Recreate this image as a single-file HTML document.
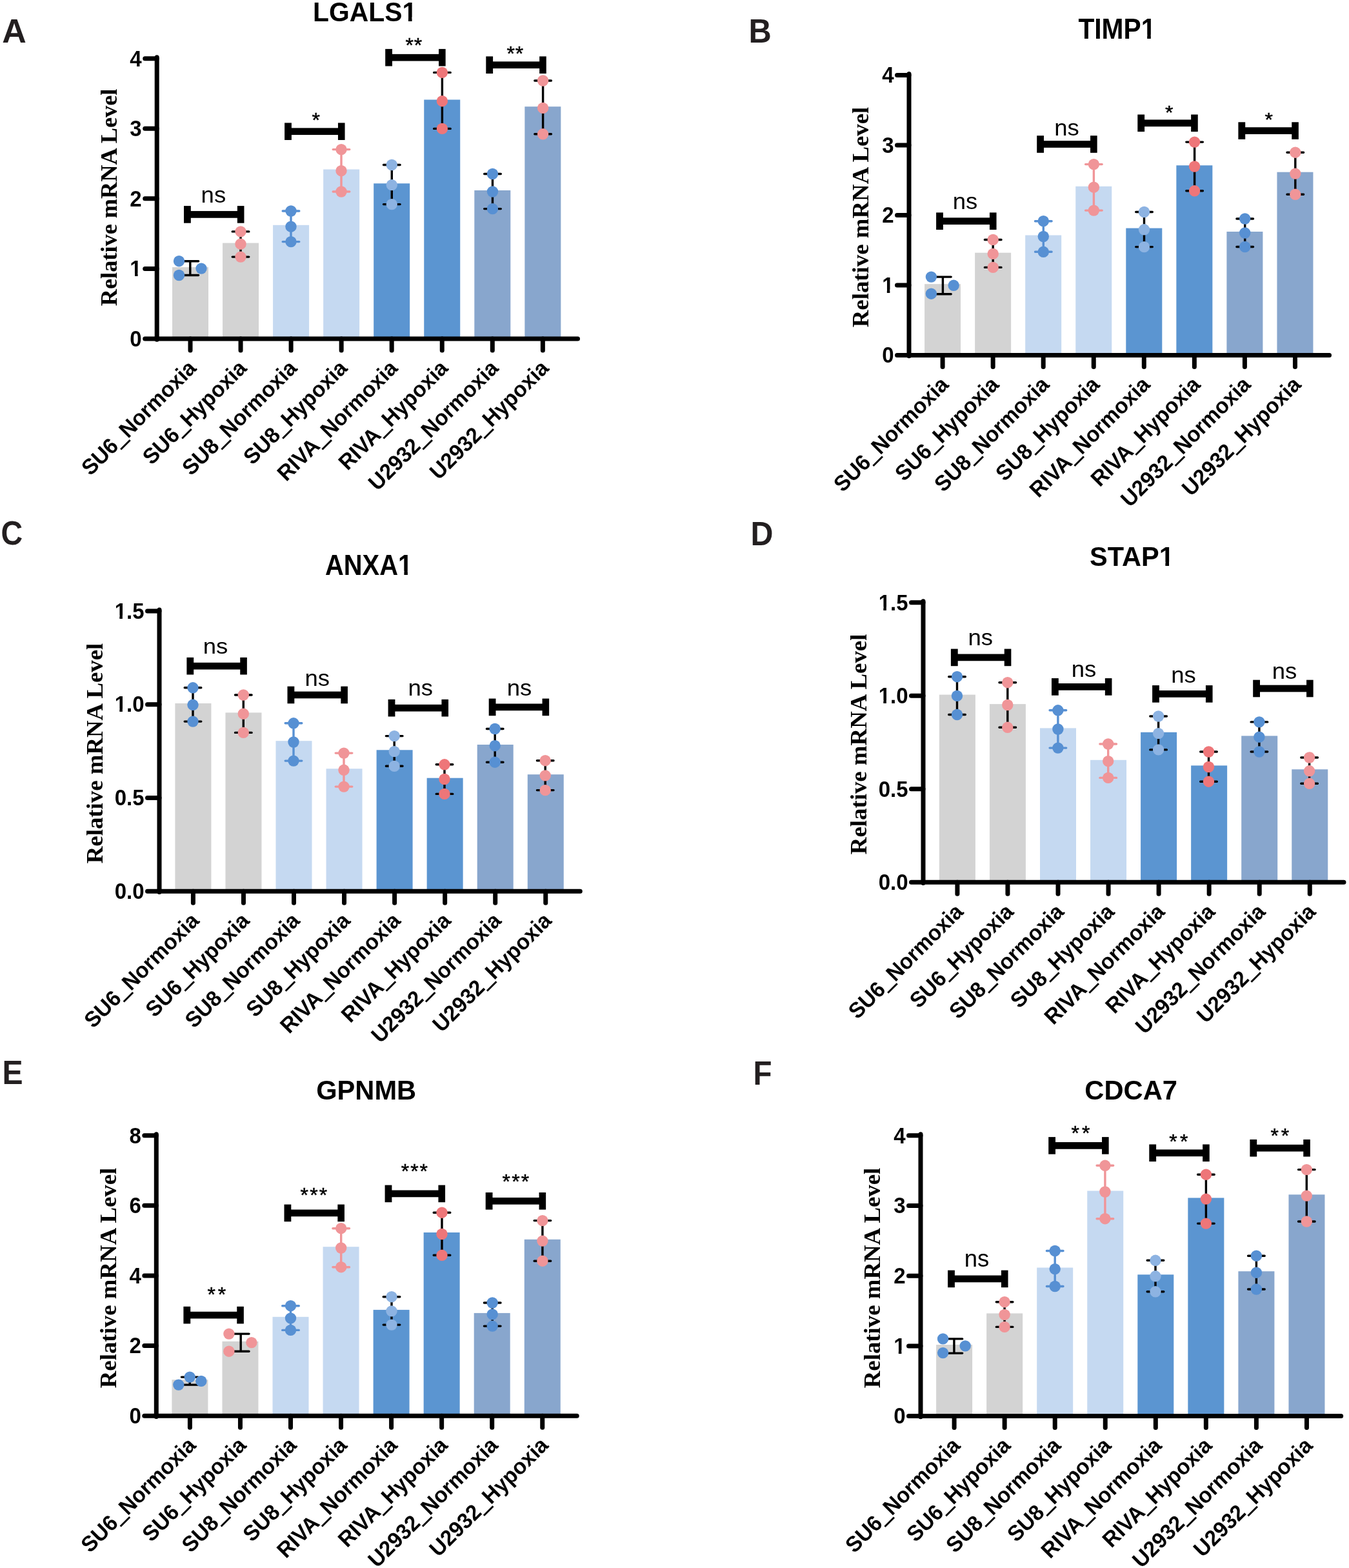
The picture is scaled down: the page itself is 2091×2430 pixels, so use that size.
<!DOCTYPE html>
<html><head><meta charset="utf-8"><title>Relative mRNA levels</title>
<style>html,body{margin:0;padding:0;background:#fff;}svg{display:block;}</style></head>
<body><svg width="2091" height="2430" viewBox="0 0 2091 2430">
<rect width="2091" height="2430" fill="#fff"/>
<text x="3.2" y="65.8" font-family="'Liberation Sans', Arial, sans-serif" font-weight="bold" font-size="52.01" fill="#231f20">A</text>
<g transform="translate(484.96 32.67) scale(1 1.0475)"><text font-family="'Liberation Sans', Arial, sans-serif" font-weight="bold" font-size="40.86" fill="#000">LGALS1</text><rect x="140.04" y="-5.67" width="7.96" height="6.87" fill="#fff"/><rect x="153.6" y="-5.67" width="7.44" height="6.87" fill="#fff"/></g>
<rect x="267" y="414.1" width="56" height="110.9" fill="#d3d3d3"/>
<rect x="345.05" y="376.6" width="56" height="148.4" fill="#d3d3d3"/>
<rect x="423.1" y="348.8" width="56" height="176.2" fill="#c5d9f1"/>
<rect x="501.15" y="262.5" width="56" height="262.5" fill="#c5d9f1"/>
<rect x="579.2" y="284.3" width="56" height="240.7" fill="#5b95d1"/>
<rect x="657.25" y="154.5" width="56" height="370.5" fill="#5b95d1"/>
<rect x="735.3" y="295" width="56" height="230" fill="#88a6cd"/>
<rect x="813.35" y="165.2" width="56" height="359.8" fill="#88a6cd"/>
<path d="M294.8 404.7V426.5M282 404.7H307.6M282 426.5H307.6" stroke="#000000" stroke-width="3.4" stroke-linecap="round" fill="none"/>
<circle cx="277.5" cy="404.7" r="8.7" fill="#5790d3"/>
<circle cx="277.5" cy="426.5" r="8.7" fill="#5790d3"/>
<circle cx="312" cy="416.1" r="8.7" fill="#5790d3"/>
<path d="M373 358.9V398.1M360.2 358.9H385.8M360.2 398.1H385.8" stroke="#000000" stroke-width="3.4" stroke-linecap="round" fill="none"/>
<circle cx="373" cy="358.9" r="8.7" fill="#f09598"/>
<circle cx="373" cy="378.2" r="8.7" fill="#f09598"/>
<circle cx="373" cy="398.1" r="8.7" fill="#f09598"/>
<path d="M451 327V374.6M438.2 327H463.8M438.2 374.6H463.8" stroke="#5790d3" stroke-width="3.4" stroke-linecap="round" fill="none"/>
<circle cx="451" cy="327" r="8.7" fill="#5790d3"/>
<circle cx="451" cy="351.2" r="8.7" fill="#5790d3"/>
<circle cx="451" cy="374.6" r="8.7" fill="#5790d3"/>
<path d="M529 231.6V297M516.2 231.6H541.8M516.2 297H541.8" stroke="#f09598" stroke-width="3.4" stroke-linecap="round" fill="none"/>
<circle cx="529" cy="231.6" r="8.7" fill="#f09598"/>
<circle cx="529" cy="264.7" r="8.7" fill="#f09598"/>
<circle cx="529" cy="297" r="8.7" fill="#f09598"/>
<path d="M607.3 255.5V316.6M594.5 255.5H620.1M594.5 316.6H620.1" stroke="#000000" stroke-width="3.4" stroke-linecap="round" fill="none"/>
<circle cx="607.3" cy="255.5" r="8.7" fill="#8db3e2"/>
<circle cx="607.3" cy="286.6" r="8.7" fill="#8db3e2"/>
<circle cx="607.3" cy="316.6" r="8.7" fill="#8db3e2"/>
<path d="M685.4 112.4V199.4M672.6 112.4H698.2M672.6 199.4H698.2" stroke="#000000" stroke-width="3.4" stroke-linecap="round" fill="none"/>
<circle cx="685.4" cy="112.4" r="8.7" fill="#ee7679"/>
<circle cx="685.4" cy="156.7" r="8.7" fill="#ee7679"/>
<circle cx="685.4" cy="199.4" r="8.7" fill="#ee7679"/>
<path d="M763.5 269.5V323.6M750.7 269.5H776.3M750.7 323.6H776.3" stroke="#000000" stroke-width="3.4" stroke-linecap="round" fill="none"/>
<circle cx="763.5" cy="269.5" r="8.7" fill="#5790d3"/>
<circle cx="763.5" cy="297" r="8.7" fill="#5790d3"/>
<circle cx="763.5" cy="323.6" r="8.7" fill="#5790d3"/>
<path d="M841.6 125V207.8M828.8 125H854.4M828.8 207.8H854.4" stroke="#000000" stroke-width="3.4" stroke-linecap="round" fill="none"/>
<circle cx="841.6" cy="125" r="8.7" fill="#f09598"/>
<circle cx="841.6" cy="167.4" r="8.7" fill="#f09598"/>
<circle cx="841.6" cy="207.8" r="8.7" fill="#f09598"/>
<path d="M243.2 88.7V526.2M243.2 525H895.5" stroke="#000" stroke-width="7" stroke-linecap="round" fill="none"/>
<path d="M243.2 525H224.7" stroke="#000" stroke-width="7" stroke-linecap="round"/>
<g transform="translate(219.7 536.81) scale(1 1.04)"><text text-anchor="end" font-family="'Liberation Sans', Arial, sans-serif" font-weight="bold" font-size="33">0</text></g>
<path d="M243.2 416.43H224.7" stroke="#000" stroke-width="7" stroke-linecap="round"/>
<g transform="translate(219.7 428.24) scale(1 1.04)"><text text-anchor="end" font-family="'Liberation Sans', Arial, sans-serif" font-weight="bold" font-size="33">1</text><rect x="-17.28" y="-4.87" width="6.62" height="6.07" fill="#fff"/><rect x="-6.13" y="-4.87" width="6.2" height="6.07" fill="#fff"/></g>
<path d="M243.2 307.85H224.7" stroke="#000" stroke-width="7" stroke-linecap="round"/>
<g transform="translate(219.7 319.66) scale(1 1.04)"><text text-anchor="end" font-family="'Liberation Sans', Arial, sans-serif" font-weight="bold" font-size="33">2</text></g>
<path d="M243.2 199.27H224.7" stroke="#000" stroke-width="7" stroke-linecap="round"/>
<g transform="translate(219.7 211.09) scale(1 1.04)"><text text-anchor="end" font-family="'Liberation Sans', Arial, sans-serif" font-weight="bold" font-size="33">3</text></g>
<path d="M243.2 90.7H224.7" stroke="#000" stroke-width="7" stroke-linecap="round"/>
<g transform="translate(219.7 102.51) scale(1 1.04)"><text text-anchor="end" font-family="'Liberation Sans', Arial, sans-serif" font-weight="bold" font-size="33">4</text></g>
<path d="M295 525V543" stroke="#000" stroke-width="7" stroke-linecap="round"/>
<text transform="translate(306.1 572.6) rotate(-45) scale(1 1.03)" text-anchor="end" font-family="'Liberation Sans', Arial, sans-serif" font-weight="bold" font-size="33">SU6<tspan stroke="#000" stroke-width="1.6">_</tspan>Normoxia</text>
<path d="M373.05 525V543" stroke="#000" stroke-width="7" stroke-linecap="round"/>
<text transform="translate(384.15 572.6) rotate(-45) scale(1 1.03)" text-anchor="end" font-family="'Liberation Sans', Arial, sans-serif" font-weight="bold" font-size="33">SU6<tspan stroke="#000" stroke-width="1.6">_</tspan>Hypoxia</text>
<path d="M451.1 525V543" stroke="#000" stroke-width="7" stroke-linecap="round"/>
<text transform="translate(462.2 572.6) rotate(-45) scale(1 1.03)" text-anchor="end" font-family="'Liberation Sans', Arial, sans-serif" font-weight="bold" font-size="33">SU8<tspan stroke="#000" stroke-width="1.6">_</tspan>Normoxia</text>
<path d="M529.15 525V543" stroke="#000" stroke-width="7" stroke-linecap="round"/>
<text transform="translate(540.25 572.6) rotate(-45) scale(1 1.03)" text-anchor="end" font-family="'Liberation Sans', Arial, sans-serif" font-weight="bold" font-size="33">SU8<tspan stroke="#000" stroke-width="1.6">_</tspan>Hypoxia</text>
<path d="M607.2 525V543" stroke="#000" stroke-width="7" stroke-linecap="round"/>
<text transform="translate(618.3 572.6) rotate(-45) scale(1 1.03)" text-anchor="end" font-family="'Liberation Sans', Arial, sans-serif" font-weight="bold" font-size="33">RIVA<tspan stroke="#000" stroke-width="1.6">_</tspan>Normoxia</text>
<path d="M685.25 525V543" stroke="#000" stroke-width="7" stroke-linecap="round"/>
<text transform="translate(696.35 572.6) rotate(-45) scale(1 1.03)" text-anchor="end" font-family="'Liberation Sans', Arial, sans-serif" font-weight="bold" font-size="33">RIVA<tspan stroke="#000" stroke-width="1.6">_</tspan>Hypoxia</text>
<path d="M763.3 525V543" stroke="#000" stroke-width="7" stroke-linecap="round"/>
<text transform="translate(774.4 572.6) rotate(-45) scale(1 1.03)" text-anchor="end" font-family="'Liberation Sans', Arial, sans-serif" font-weight="bold" font-size="33">U2932<tspan stroke="#000" stroke-width="1.6">_</tspan>Normoxia</text>
<path d="M841.35 525V543" stroke="#000" stroke-width="7" stroke-linecap="round"/>
<text transform="translate(852.45 572.6) rotate(-45) scale(1 1.03)" text-anchor="end" font-family="'Liberation Sans', Arial, sans-serif" font-weight="bold" font-size="33">U2932<tspan stroke="#000" stroke-width="1.6">_</tspan>Hypoxia</text>
<rect x="285" y="319.1" width="10.8" height="26.6"/>
<rect x="367.85" y="319.1" width="10.6" height="26.6"/>
<rect x="295" y="327.05" width="78.05" height="10.7"/>
<text transform="translate(311.58 313.75) scale(1 0.9649)" font-family="'Liberation Sans', Arial, sans-serif" font-weight="normal" font-size="36.5" fill="#000">ns</text>
<rect x="441.1" y="190.4" width="10.8" height="26.6"/>
<rect x="523.95" y="190.4" width="10.6" height="26.6"/>
<rect x="451.1" y="198.35" width="78.05" height="10.7"/>
<text stroke="#000" stroke-width="0.5" transform="translate(483.43 197.16) scale(1 0.9793)" font-family="'Liberation Sans', Arial, sans-serif" font-weight="normal" font-size="32" fill="#000">*</text>
<rect x="597.2" y="75.9" width="10.8" height="26.6"/>
<rect x="680.05" y="75.9" width="10.6" height="26.6"/>
<rect x="607.2" y="83.85" width="78.05" height="10.7"/>
<text stroke="#000" stroke-width="0.5" transform="translate(628.39 81.47) scale(1 0.9704)" font-family="'Liberation Sans', Arial, sans-serif" font-weight="normal" font-size="32" fill="#000" letter-spacing="1.03">**</text>
<rect x="753.3" y="87.4" width="10.8" height="26.6"/>
<rect x="836.15" y="87.4" width="10.6" height="26.6"/>
<rect x="763.3" y="95.35" width="78.05" height="10.7"/>
<text stroke="#000" stroke-width="0.5" transform="translate(785.49 94.05) scale(1 1.0061)" font-family="'Liberation Sans', Arial, sans-serif" font-weight="normal" font-size="32" fill="#000" letter-spacing="0.83">**</text>
<text transform="translate(180.5 305.9) rotate(-90)" text-anchor="middle" font-family="'Liberation Serif', 'Times New Roman', serif" font-weight="bold" font-size="36.3">Relative mRNA Level</text>
<text transform="translate(1160.53 65.8) scale(1 1.0622)" font-family="'Liberation Sans', Arial, sans-serif" font-weight="bold" font-size="48.85" fill="#231f20">B</text>
<g transform="translate(1671.45 59.8) scale(1 1.0676)"><text font-family="'Liberation Sans', Arial, sans-serif" font-weight="bold" font-size="40.71" fill="#000">TIMP1</text><rect x="98.81" y="-5.65" width="7.94" height="6.85" fill="#fff"/><rect x="112.33" y="-5.65" width="7.42" height="6.85" fill="#fff"/></g>
<rect x="1433.1" y="440.2" width="56" height="110.3" fill="#d3d3d3"/>
<rect x="1511.15" y="391.7" width="56" height="158.8" fill="#d3d3d3"/>
<rect x="1589.2" y="364.5" width="56" height="186" fill="#c5d9f1"/>
<rect x="1667.25" y="288.8" width="56" height="261.7" fill="#c5d9f1"/>
<rect x="1745.3" y="353.6" width="56" height="196.9" fill="#5b95d1"/>
<rect x="1823.35" y="256.3" width="56" height="294.2" fill="#5b95d1"/>
<rect x="1901.4" y="359" width="56" height="191.5" fill="#88a6cd"/>
<rect x="1979.45" y="266.7" width="56" height="283.8" fill="#88a6cd"/>
<path d="M1461.4 429.1V455.7M1448.6 429.1H1474.2M1448.6 455.7H1474.2" stroke="#000000" stroke-width="3.4" stroke-linecap="round" fill="none"/>
<circle cx="1443.4" cy="429.1" r="8.7" fill="#5790d3"/>
<circle cx="1443.4" cy="455.2" r="8.7" fill="#5790d3"/>
<circle cx="1478.2" cy="442.3" r="8.7" fill="#5790d3"/>
<path d="M1539.2 371.5V414.4M1526.4 371.5H1552M1526.4 414.4H1552" stroke="#000000" stroke-width="3.4" stroke-linecap="round" fill="none"/>
<circle cx="1539.2" cy="371.5" r="8.7" fill="#f09598"/>
<circle cx="1539.2" cy="393.4" r="8.7" fill="#f09598"/>
<circle cx="1539.2" cy="414.4" r="8.7" fill="#f09598"/>
<path d="M1617.3 342.7V390.3M1604.5 342.7H1630.1M1604.5 390.3H1630.1" stroke="#5790d3" stroke-width="3.4" stroke-linecap="round" fill="none"/>
<circle cx="1617.3" cy="342.7" r="8.7" fill="#5790d3"/>
<circle cx="1617.3" cy="366.5" r="8.7" fill="#5790d3"/>
<circle cx="1617.3" cy="390.3" r="8.7" fill="#5790d3"/>
<path d="M1695.4 254.6V326.1M1682.6 254.6H1708.2M1682.6 326.1H1708.2" stroke="#f09598" stroke-width="3.4" stroke-linecap="round" fill="none"/>
<circle cx="1695.4" cy="254.6" r="8.7" fill="#f09598"/>
<circle cx="1695.4" cy="290.2" r="8.7" fill="#f09598"/>
<circle cx="1695.4" cy="326.1" r="8.7" fill="#f09598"/>
<path d="M1773.5 328.5V382.6M1760.7 328.5H1786.3M1760.7 382.6H1786.3" stroke="#000000" stroke-width="3.4" stroke-linecap="round" fill="none"/>
<circle cx="1773.5" cy="328.5" r="8.7" fill="#8db3e2"/>
<circle cx="1773.5" cy="355.8" r="8.7" fill="#8db3e2"/>
<circle cx="1773.5" cy="382.6" r="8.7" fill="#8db3e2"/>
<path d="M1851.6 220.1V295.8M1838.8 220.1H1864.4M1838.8 295.8H1864.4" stroke="#000000" stroke-width="3.4" stroke-linecap="round" fill="none"/>
<circle cx="1851.6" cy="220.1" r="8.7" fill="#ee7679"/>
<circle cx="1851.6" cy="258" r="8.7" fill="#ee7679"/>
<circle cx="1851.6" cy="295.8" r="8.7" fill="#ee7679"/>
<path d="M1929.7 339V382.5M1916.9 339H1942.5M1916.9 382.5H1942.5" stroke="#000000" stroke-width="3.4" stroke-linecap="round" fill="none"/>
<circle cx="1929.7" cy="339" r="8.7" fill="#5790d3"/>
<circle cx="1929.7" cy="361" r="8.7" fill="#5790d3"/>
<circle cx="1929.7" cy="382.5" r="8.7" fill="#5790d3"/>
<path d="M2007.8 236.2V301.3M1995 236.2H2020.6M1995 301.3H2020.6" stroke="#000000" stroke-width="3.4" stroke-linecap="round" fill="none"/>
<circle cx="2007.8" cy="236.2" r="8.7" fill="#f09598"/>
<circle cx="2007.8" cy="269.1" r="8.7" fill="#f09598"/>
<circle cx="2007.8" cy="301.3" r="8.7" fill="#f09598"/>
<path d="M1409 114.5V551.7M1409 550.5H2060.5" stroke="#000" stroke-width="7" stroke-linecap="round" fill="none"/>
<path d="M1409 550.5H1390.5" stroke="#000" stroke-width="7" stroke-linecap="round"/>
<g transform="translate(1385.5 562.31) scale(1 1.04)"><text text-anchor="end" font-family="'Liberation Sans', Arial, sans-serif" font-weight="bold" font-size="33">0</text></g>
<path d="M1409 442H1390.5" stroke="#000" stroke-width="7" stroke-linecap="round"/>
<g transform="translate(1385.5 453.81) scale(1 1.04)"><text text-anchor="end" font-family="'Liberation Sans', Arial, sans-serif" font-weight="bold" font-size="33">1</text><rect x="-17.28" y="-4.87" width="6.62" height="6.07" fill="#fff"/><rect x="-6.13" y="-4.87" width="6.2" height="6.07" fill="#fff"/></g>
<path d="M1409 333.5H1390.5" stroke="#000" stroke-width="7" stroke-linecap="round"/>
<g transform="translate(1385.5 345.31) scale(1 1.04)"><text text-anchor="end" font-family="'Liberation Sans', Arial, sans-serif" font-weight="bold" font-size="33">2</text></g>
<path d="M1409 225H1390.5" stroke="#000" stroke-width="7" stroke-linecap="round"/>
<g transform="translate(1385.5 236.81) scale(1 1.04)"><text text-anchor="end" font-family="'Liberation Sans', Arial, sans-serif" font-weight="bold" font-size="33">3</text></g>
<path d="M1409 116.5H1390.5" stroke="#000" stroke-width="7" stroke-linecap="round"/>
<g transform="translate(1385.5 128.31) scale(1 1.04)"><text text-anchor="end" font-family="'Liberation Sans', Arial, sans-serif" font-weight="bold" font-size="33">4</text></g>
<path d="M1461.1 550.5V568.5" stroke="#000" stroke-width="7" stroke-linecap="round"/>
<text transform="translate(1472.2 598.1) rotate(-45) scale(1 1.03)" text-anchor="end" font-family="'Liberation Sans', Arial, sans-serif" font-weight="bold" font-size="33">SU6<tspan stroke="#000" stroke-width="1.6">_</tspan>Normoxia</text>
<path d="M1539.15 550.5V568.5" stroke="#000" stroke-width="7" stroke-linecap="round"/>
<text transform="translate(1550.25 598.1) rotate(-45) scale(1 1.03)" text-anchor="end" font-family="'Liberation Sans', Arial, sans-serif" font-weight="bold" font-size="33">SU6<tspan stroke="#000" stroke-width="1.6">_</tspan>Hypoxia</text>
<path d="M1617.2 550.5V568.5" stroke="#000" stroke-width="7" stroke-linecap="round"/>
<text transform="translate(1628.3 598.1) rotate(-45) scale(1 1.03)" text-anchor="end" font-family="'Liberation Sans', Arial, sans-serif" font-weight="bold" font-size="33">SU8<tspan stroke="#000" stroke-width="1.6">_</tspan>Normoxia</text>
<path d="M1695.25 550.5V568.5" stroke="#000" stroke-width="7" stroke-linecap="round"/>
<text transform="translate(1706.35 598.1) rotate(-45) scale(1 1.03)" text-anchor="end" font-family="'Liberation Sans', Arial, sans-serif" font-weight="bold" font-size="33">SU8<tspan stroke="#000" stroke-width="1.6">_</tspan>Hypoxia</text>
<path d="M1773.3 550.5V568.5" stroke="#000" stroke-width="7" stroke-linecap="round"/>
<text transform="translate(1784.4 598.1) rotate(-45) scale(1 1.03)" text-anchor="end" font-family="'Liberation Sans', Arial, sans-serif" font-weight="bold" font-size="33">RIVA<tspan stroke="#000" stroke-width="1.6">_</tspan>Normoxia</text>
<path d="M1851.35 550.5V568.5" stroke="#000" stroke-width="7" stroke-linecap="round"/>
<text transform="translate(1862.45 598.1) rotate(-45) scale(1 1.03)" text-anchor="end" font-family="'Liberation Sans', Arial, sans-serif" font-weight="bold" font-size="33">RIVA<tspan stroke="#000" stroke-width="1.6">_</tspan>Hypoxia</text>
<path d="M1929.4 550.5V568.5" stroke="#000" stroke-width="7" stroke-linecap="round"/>
<text transform="translate(1940.5 598.1) rotate(-45) scale(1 1.03)" text-anchor="end" font-family="'Liberation Sans', Arial, sans-serif" font-weight="bold" font-size="33">U2932<tspan stroke="#000" stroke-width="1.6">_</tspan>Normoxia</text>
<path d="M2007.45 550.5V568.5" stroke="#000" stroke-width="7" stroke-linecap="round"/>
<text transform="translate(2018.55 598.1) rotate(-45) scale(1 1.03)" text-anchor="end" font-family="'Liberation Sans', Arial, sans-serif" font-weight="bold" font-size="33">U2932<tspan stroke="#000" stroke-width="1.6">_</tspan>Hypoxia</text>
<rect x="1451.1" y="329.4" width="10.8" height="26.6"/>
<rect x="1533.95" y="329.4" width="10.6" height="26.6"/>
<rect x="1461.1" y="337.35" width="78.05" height="10.7"/>
<text transform="translate(1476.68 323.54) scale(1 0.9849)" font-family="'Liberation Sans', Arial, sans-serif" font-weight="normal" font-size="36.5" fill="#000">ns</text>
<rect x="1607.2" y="210.2" width="10.8" height="26.6"/>
<rect x="1690.05" y="210.2" width="10.6" height="26.6"/>
<rect x="1617.2" y="218.15" width="78.05" height="10.7"/>
<text transform="translate(1634.23 209.94) scale(1 0.9799)" font-family="'Liberation Sans', Arial, sans-serif" font-weight="normal" font-size="36.5" fill="#000">ns</text>
<rect x="1763.3" y="177.5" width="10.8" height="26.6"/>
<rect x="1846.15" y="177.5" width="10.6" height="26.6"/>
<rect x="1773.3" y="185.45" width="78.05" height="10.7"/>
<text stroke="#000" stroke-width="0.5" transform="translate(1806.08 183.68) scale(1 0.9437)" font-family="'Liberation Sans', Arial, sans-serif" font-weight="normal" font-size="32" fill="#000">*</text>
<rect x="1919.4" y="189.3" width="10.8" height="26.6"/>
<rect x="2002.25" y="189.3" width="10.6" height="26.6"/>
<rect x="1929.4" y="197.25" width="78.05" height="10.7"/>
<text stroke="#000" stroke-width="0.5" transform="translate(1960.38 195.28) scale(1 0.9437)" font-family="'Liberation Sans', Arial, sans-serif" font-weight="normal" font-size="32" fill="#000">*</text>
<text transform="translate(1346.4 336.45) rotate(-90)" text-anchor="middle" font-family="'Liberation Serif', 'Times New Roman', serif" font-weight="bold" font-size="36.85">Relative mRNA Level</text>
<text transform="translate(1.59 844.38) scale(1 1.1145)" font-family="'Liberation Sans', Arial, sans-serif" font-weight="bold" font-size="46.64" fill="#231f20">C</text>
<g transform="translate(503.9 890.9) scale(1 1.0879)"><text font-family="'Liberation Sans', Arial, sans-serif" font-weight="bold" font-size="39.95" fill="#000">ANXA1</text><rect x="114.7" y="-5.57" width="7.81" height="6.77" fill="#fff"/><rect x="127.99" y="-5.57" width="7.3" height="6.77" fill="#fff"/></g>
<rect x="271.4" y="1090" width="56" height="291.2" fill="#d3d3d3"/>
<rect x="349.45" y="1104.4" width="56" height="276.8" fill="#d3d3d3"/>
<rect x="427.5" y="1148.2" width="56" height="233" fill="#c5d9f1"/>
<rect x="505.55" y="1191.3" width="56" height="189.9" fill="#c5d9f1"/>
<rect x="583.6" y="1162.3" width="56" height="218.9" fill="#5b95d1"/>
<rect x="661.65" y="1205.7" width="56" height="175.5" fill="#5b95d1"/>
<rect x="739.7" y="1154" width="56" height="227.2" fill="#88a6cd"/>
<rect x="817.75" y="1200.2" width="56" height="181" fill="#88a6cd"/>
<path d="M299 1065.8V1118.1M286.2 1065.8H311.8M286.2 1118.1H311.8" stroke="#000000" stroke-width="3.4" stroke-linecap="round" fill="none"/>
<circle cx="299" cy="1065.8" r="8.7" fill="#5790d3"/>
<circle cx="299" cy="1092.3" r="8.7" fill="#5790d3"/>
<circle cx="299" cy="1118.1" r="8.7" fill="#5790d3"/>
<path d="M377.3 1077V1135.4M364.5 1077H390.1M364.5 1135.4H390.1" stroke="#000000" stroke-width="3.4" stroke-linecap="round" fill="none"/>
<circle cx="377.3" cy="1077" r="8.7" fill="#f09598"/>
<circle cx="377.3" cy="1106.2" r="8.7" fill="#f09598"/>
<circle cx="377.3" cy="1135.4" r="8.7" fill="#f09598"/>
<path d="M455 1120.8V1179.1M442.2 1120.8H467.8M442.2 1179.1H467.8" stroke="#5790d3" stroke-width="3.4" stroke-linecap="round" fill="none"/>
<circle cx="455" cy="1120.8" r="8.7" fill="#5790d3"/>
<circle cx="455" cy="1150" r="8.7" fill="#5790d3"/>
<circle cx="455" cy="1179.1" r="8.7" fill="#5790d3"/>
<path d="M533 1167.1V1219.1M520.2 1167.1H545.8M520.2 1219.1H545.8" stroke="#f09598" stroke-width="3.4" stroke-linecap="round" fill="none"/>
<circle cx="533" cy="1167.1" r="8.7" fill="#f09598"/>
<circle cx="533" cy="1193.3" r="8.7" fill="#f09598"/>
<circle cx="533" cy="1219.1" r="8.7" fill="#f09598"/>
<path d="M611.2 1140.6V1187.3M598.4 1140.6H624M598.4 1187.3H624" stroke="#000000" stroke-width="3.4" stroke-linecap="round" fill="none"/>
<circle cx="611.2" cy="1140.6" r="8.7" fill="#8db3e2"/>
<circle cx="611.2" cy="1164.6" r="8.7" fill="#8db3e2"/>
<circle cx="611.2" cy="1187.3" r="8.7" fill="#8db3e2"/>
<path d="M689 1184.8V1230.4M676.2 1184.8H701.8M676.2 1230.4H701.8" stroke="#000000" stroke-width="3.4" stroke-linecap="round" fill="none"/>
<circle cx="689" cy="1184.8" r="8.7" fill="#ee7679"/>
<circle cx="689" cy="1207.5" r="8.7" fill="#ee7679"/>
<circle cx="689" cy="1230.4" r="8.7" fill="#ee7679"/>
<path d="M767.2 1129.5V1181.2M754.4 1129.5H780M754.4 1181.2H780" stroke="#000000" stroke-width="3.4" stroke-linecap="round" fill="none"/>
<circle cx="767.2" cy="1129.5" r="8.7" fill="#5790d3"/>
<circle cx="767.2" cy="1155.7" r="8.7" fill="#5790d3"/>
<circle cx="767.2" cy="1181.2" r="8.7" fill="#5790d3"/>
<path d="M845.2 1178.7V1224.6M832.4 1178.7H858M832.4 1224.6H858" stroke="#000000" stroke-width="3.4" stroke-linecap="round" fill="none"/>
<circle cx="845.2" cy="1178.7" r="8.7" fill="#f09598"/>
<circle cx="845.2" cy="1201.9" r="8.7" fill="#f09598"/>
<circle cx="845.2" cy="1224.6" r="8.7" fill="#f09598"/>
<path d="M247 944.9V1382.4M247 1381.2H899.3" stroke="#000" stroke-width="7" stroke-linecap="round" fill="none"/>
<path d="M247 1381.2H228.5" stroke="#000" stroke-width="7" stroke-linecap="round"/>
<g transform="translate(223.5 1393.01) scale(1 1.04)"><text text-anchor="end" font-family="'Liberation Sans', Arial, sans-serif" font-weight="bold" font-size="33">0.0</text></g>
<path d="M247 1236.43H228.5" stroke="#000" stroke-width="7" stroke-linecap="round"/>
<g transform="translate(223.5 1248.25) scale(1 1.04)"><text text-anchor="end" font-family="'Liberation Sans', Arial, sans-serif" font-weight="bold" font-size="33">0.5</text></g>
<path d="M247 1091.67H228.5" stroke="#000" stroke-width="7" stroke-linecap="round"/>
<g transform="translate(223.5 1103.48) scale(1 1.04)"><text text-anchor="end" font-family="'Liberation Sans', Arial, sans-serif" font-weight="bold" font-size="33">1.0</text><rect x="-44.8" y="-4.87" width="6.62" height="6.07" fill="#fff"/><rect x="-33.65" y="-4.87" width="6.2" height="6.07" fill="#fff"/></g>
<path d="M247 946.9H228.5" stroke="#000" stroke-width="7" stroke-linecap="round"/>
<g transform="translate(223.5 958.71) scale(1 1.04)"><text text-anchor="end" font-family="'Liberation Sans', Arial, sans-serif" font-weight="bold" font-size="33">1.5</text><rect x="-44.8" y="-4.87" width="6.62" height="6.07" fill="#fff"/><rect x="-33.65" y="-4.87" width="6.2" height="6.07" fill="#fff"/></g>
<path d="M299.4 1381.2V1399.2" stroke="#000" stroke-width="7" stroke-linecap="round"/>
<text transform="translate(310.5 1428.8) rotate(-45) scale(1 1.03)" text-anchor="end" font-family="'Liberation Sans', Arial, sans-serif" font-weight="bold" font-size="33">SU6<tspan stroke="#000" stroke-width="1.6">_</tspan>Normoxia</text>
<path d="M377.45 1381.2V1399.2" stroke="#000" stroke-width="7" stroke-linecap="round"/>
<text transform="translate(388.55 1428.8) rotate(-45) scale(1 1.03)" text-anchor="end" font-family="'Liberation Sans', Arial, sans-serif" font-weight="bold" font-size="33">SU6<tspan stroke="#000" stroke-width="1.6">_</tspan>Hypoxia</text>
<path d="M455.5 1381.2V1399.2" stroke="#000" stroke-width="7" stroke-linecap="round"/>
<text transform="translate(466.6 1428.8) rotate(-45) scale(1 1.03)" text-anchor="end" font-family="'Liberation Sans', Arial, sans-serif" font-weight="bold" font-size="33">SU8<tspan stroke="#000" stroke-width="1.6">_</tspan>Normoxia</text>
<path d="M533.55 1381.2V1399.2" stroke="#000" stroke-width="7" stroke-linecap="round"/>
<text transform="translate(544.65 1428.8) rotate(-45) scale(1 1.03)" text-anchor="end" font-family="'Liberation Sans', Arial, sans-serif" font-weight="bold" font-size="33">SU8<tspan stroke="#000" stroke-width="1.6">_</tspan>Hypoxia</text>
<path d="M611.6 1381.2V1399.2" stroke="#000" stroke-width="7" stroke-linecap="round"/>
<text transform="translate(622.7 1428.8) rotate(-45) scale(1 1.03)" text-anchor="end" font-family="'Liberation Sans', Arial, sans-serif" font-weight="bold" font-size="33">RIVA<tspan stroke="#000" stroke-width="1.6">_</tspan>Normoxia</text>
<path d="M689.65 1381.2V1399.2" stroke="#000" stroke-width="7" stroke-linecap="round"/>
<text transform="translate(700.75 1428.8) rotate(-45) scale(1 1.03)" text-anchor="end" font-family="'Liberation Sans', Arial, sans-serif" font-weight="bold" font-size="33">RIVA<tspan stroke="#000" stroke-width="1.6">_</tspan>Hypoxia</text>
<path d="M767.7 1381.2V1399.2" stroke="#000" stroke-width="7" stroke-linecap="round"/>
<text transform="translate(778.8 1428.8) rotate(-45) scale(1 1.03)" text-anchor="end" font-family="'Liberation Sans', Arial, sans-serif" font-weight="bold" font-size="33">U2932<tspan stroke="#000" stroke-width="1.6">_</tspan>Normoxia</text>
<path d="M845.75 1381.2V1399.2" stroke="#000" stroke-width="7" stroke-linecap="round"/>
<text transform="translate(856.85 1428.8) rotate(-45) scale(1 1.03)" text-anchor="end" font-family="'Liberation Sans', Arial, sans-serif" font-weight="bold" font-size="33">U2932<tspan stroke="#000" stroke-width="1.6">_</tspan>Hypoxia</text>
<rect x="289.4" y="1018.9" width="10.8" height="26.6"/>
<rect x="372.25" y="1018.9" width="10.6" height="26.6"/>
<rect x="299.4" y="1026.85" width="78.05" height="10.7"/>
<text transform="translate(314.73 1013.26) scale(1 0.9199)" font-family="'Liberation Sans', Arial, sans-serif" font-weight="normal" font-size="36.5" fill="#000">ns</text>
<rect x="445.5" y="1063.7" width="10.8" height="26.6"/>
<rect x="528.35" y="1063.7" width="10.6" height="26.6"/>
<rect x="455.5" y="1071.65" width="78.05" height="10.7"/>
<text transform="translate(472.58 1063.25) scale(1 0.9549)" font-family="'Liberation Sans', Arial, sans-serif" font-weight="normal" font-size="36.5" fill="#000">ns</text>
<rect x="601.6" y="1083.9" width="10.8" height="26.6"/>
<rect x="684.45" y="1083.9" width="10.6" height="26.6"/>
<rect x="611.6" y="1091.85" width="78.05" height="10.7"/>
<text transform="translate(632.58 1078.35) scale(1 0.9699)" font-family="'Liberation Sans', Arial, sans-serif" font-weight="normal" font-size="36.5" fill="#000">ns</text>
<rect x="757.7" y="1082.6" width="10.8" height="26.6"/>
<rect x="840.55" y="1082.6" width="10.6" height="26.6"/>
<rect x="767.7" y="1090.55" width="78.05" height="10.7"/>
<text transform="translate(785.78 1077.85) scale(1 0.9699)" font-family="'Liberation Sans', Arial, sans-serif" font-weight="normal" font-size="36.5" fill="#000">ns</text>
<text transform="translate(158.6 1167.5) rotate(-90)" text-anchor="middle" font-family="'Liberation Serif', 'Times New Roman', serif" font-weight="bold" font-size="36.85">Relative mRNA Level</text>
<text transform="translate(1163.45 844.8) scale(1 1.0710)" font-family="'Liberation Sans', Arial, sans-serif" font-weight="bold" font-size="48.45" fill="#231f20">D</text>
<g transform="translate(1689 876.67) scale(1 1.0306)"><text font-family="'Liberation Sans', Arial, sans-serif" font-weight="bold" font-size="41.53" fill="#000">STAP1</text><rect x="109.29" y="-5.74" width="8.08" height="6.94" fill="#fff"/><rect x="123.06" y="-5.74" width="7.55" height="6.94" fill="#fff"/></g>
<rect x="1455.9" y="1076.6" width="56" height="290.7" fill="#d3d3d3"/>
<rect x="1533.95" y="1091.1" width="56" height="276.2" fill="#d3d3d3"/>
<rect x="1612" y="1128.4" width="56" height="238.9" fill="#c5d9f1"/>
<rect x="1690.05" y="1177.8" width="56" height="189.5" fill="#c5d9f1"/>
<rect x="1768.1" y="1134.8" width="56" height="232.5" fill="#5b95d1"/>
<rect x="1846.15" y="1186.4" width="56" height="180.9" fill="#5b95d1"/>
<rect x="1924.2" y="1140.4" width="56" height="226.9" fill="#88a6cd"/>
<rect x="2002.25" y="1192.3" width="56" height="175" fill="#88a6cd"/>
<path d="M1483.5 1048.7V1107.5M1470.7 1048.7H1496.3M1470.7 1107.5H1496.3" stroke="#000000" stroke-width="3.4" stroke-linecap="round" fill="none"/>
<circle cx="1483.5" cy="1048.7" r="8.7" fill="#5790d3"/>
<circle cx="1483.5" cy="1078.4" r="8.7" fill="#5790d3"/>
<circle cx="1483.5" cy="1107.5" r="8.7" fill="#5790d3"/>
<path d="M1561.8 1057.7V1127.3M1549 1057.7H1574.6M1549 1127.3H1574.6" stroke="#000000" stroke-width="3.4" stroke-linecap="round" fill="none"/>
<circle cx="1561.8" cy="1057.7" r="8.7" fill="#f09598"/>
<circle cx="1561.8" cy="1092.5" r="8.7" fill="#f09598"/>
<circle cx="1561.8" cy="1127.3" r="8.7" fill="#f09598"/>
<path d="M1639.9 1100.8V1159.1M1627.1 1100.8H1652.7M1627.1 1159.1H1652.7" stroke="#5790d3" stroke-width="3.4" stroke-linecap="round" fill="none"/>
<circle cx="1639.9" cy="1100.8" r="8.7" fill="#5790d3"/>
<circle cx="1639.9" cy="1130" r="8.7" fill="#5790d3"/>
<circle cx="1639.9" cy="1159.1" r="8.7" fill="#5790d3"/>
<path d="M1717.7 1153V1205.4M1704.9 1153H1730.5M1704.9 1205.4H1730.5" stroke="#f09598" stroke-width="3.4" stroke-linecap="round" fill="none"/>
<circle cx="1717.7" cy="1153" r="8.7" fill="#f09598"/>
<circle cx="1717.7" cy="1179.6" r="8.7" fill="#f09598"/>
<circle cx="1717.7" cy="1205.4" r="8.7" fill="#f09598"/>
<path d="M1795.6 1110V1161.9M1782.8 1110H1808.4M1782.8 1161.9H1808.4" stroke="#000000" stroke-width="3.4" stroke-linecap="round" fill="none"/>
<circle cx="1795.6" cy="1110" r="8.7" fill="#8db3e2"/>
<circle cx="1795.6" cy="1136.6" r="8.7" fill="#8db3e2"/>
<circle cx="1795.6" cy="1161.9" r="8.7" fill="#8db3e2"/>
<path d="M1873.5 1165V1211.2M1860.7 1165H1886.3M1860.7 1211.2H1886.3" stroke="#000000" stroke-width="3.4" stroke-linecap="round" fill="none"/>
<circle cx="1873.5" cy="1165" r="8.7" fill="#ee7679"/>
<circle cx="1873.5" cy="1188.5" r="8.7" fill="#ee7679"/>
<circle cx="1873.5" cy="1211.2" r="8.7" fill="#ee7679"/>
<path d="M1951.9 1118.9V1165M1939.1 1118.9H1964.7M1939.1 1165H1964.7" stroke="#000000" stroke-width="3.4" stroke-linecap="round" fill="none"/>
<circle cx="1951.9" cy="1118.9" r="8.7" fill="#5790d3"/>
<circle cx="1951.9" cy="1142.2" r="8.7" fill="#5790d3"/>
<circle cx="1951.9" cy="1165" r="8.7" fill="#5790d3"/>
<path d="M2029.6 1174V1214.3M2016.8 1174H2042.4M2016.8 1214.3H2042.4" stroke="#000000" stroke-width="3.4" stroke-linecap="round" fill="none"/>
<circle cx="2029.6" cy="1174" r="8.7" fill="#f09598"/>
<circle cx="2029.6" cy="1194.8" r="8.7" fill="#f09598"/>
<circle cx="2029.6" cy="1214.3" r="8.7" fill="#f09598"/>
<path d="M1431 931.7V1368.5M1431 1367.3H2083" stroke="#000" stroke-width="7" stroke-linecap="round" fill="none"/>
<path d="M1431 1367.3H1412.5" stroke="#000" stroke-width="7" stroke-linecap="round"/>
<g transform="translate(1407.5 1379.11) scale(1 1.04)"><text text-anchor="end" font-family="'Liberation Sans', Arial, sans-serif" font-weight="bold" font-size="33">0.0</text></g>
<path d="M1431 1222.77H1412.5" stroke="#000" stroke-width="7" stroke-linecap="round"/>
<g transform="translate(1407.5 1234.58) scale(1 1.04)"><text text-anchor="end" font-family="'Liberation Sans', Arial, sans-serif" font-weight="bold" font-size="33">0.5</text></g>
<path d="M1431 1078.23H1412.5" stroke="#000" stroke-width="7" stroke-linecap="round"/>
<g transform="translate(1407.5 1090.05) scale(1 1.04)"><text text-anchor="end" font-family="'Liberation Sans', Arial, sans-serif" font-weight="bold" font-size="33">1.0</text><rect x="-44.8" y="-4.87" width="6.62" height="6.07" fill="#fff"/><rect x="-33.65" y="-4.87" width="6.2" height="6.07" fill="#fff"/></g>
<path d="M1431 933.7H1412.5" stroke="#000" stroke-width="7" stroke-linecap="round"/>
<g transform="translate(1407.5 945.51) scale(1 1.04)"><text text-anchor="end" font-family="'Liberation Sans', Arial, sans-serif" font-weight="bold" font-size="33">1.5</text><rect x="-44.8" y="-4.87" width="6.62" height="6.07" fill="#fff"/><rect x="-33.65" y="-4.87" width="6.2" height="6.07" fill="#fff"/></g>
<path d="M1483.9 1367.3V1385.3" stroke="#000" stroke-width="7" stroke-linecap="round"/>
<text transform="translate(1495 1414.9) rotate(-45) scale(1 1.03)" text-anchor="end" font-family="'Liberation Sans', Arial, sans-serif" font-weight="bold" font-size="33">SU6<tspan stroke="#000" stroke-width="1.6">_</tspan>Normoxia</text>
<path d="M1561.95 1367.3V1385.3" stroke="#000" stroke-width="7" stroke-linecap="round"/>
<text transform="translate(1573.05 1414.9) rotate(-45) scale(1 1.03)" text-anchor="end" font-family="'Liberation Sans', Arial, sans-serif" font-weight="bold" font-size="33">SU6<tspan stroke="#000" stroke-width="1.6">_</tspan>Hypoxia</text>
<path d="M1640 1367.3V1385.3" stroke="#000" stroke-width="7" stroke-linecap="round"/>
<text transform="translate(1651.1 1414.9) rotate(-45) scale(1 1.03)" text-anchor="end" font-family="'Liberation Sans', Arial, sans-serif" font-weight="bold" font-size="33">SU8<tspan stroke="#000" stroke-width="1.6">_</tspan>Normoxia</text>
<path d="M1718.05 1367.3V1385.3" stroke="#000" stroke-width="7" stroke-linecap="round"/>
<text transform="translate(1729.15 1414.9) rotate(-45) scale(1 1.03)" text-anchor="end" font-family="'Liberation Sans', Arial, sans-serif" font-weight="bold" font-size="33">SU8<tspan stroke="#000" stroke-width="1.6">_</tspan>Hypoxia</text>
<path d="M1796.1 1367.3V1385.3" stroke="#000" stroke-width="7" stroke-linecap="round"/>
<text transform="translate(1807.2 1414.9) rotate(-45) scale(1 1.03)" text-anchor="end" font-family="'Liberation Sans', Arial, sans-serif" font-weight="bold" font-size="33">RIVA<tspan stroke="#000" stroke-width="1.6">_</tspan>Normoxia</text>
<path d="M1874.15 1367.3V1385.3" stroke="#000" stroke-width="7" stroke-linecap="round"/>
<text transform="translate(1885.25 1414.9) rotate(-45) scale(1 1.03)" text-anchor="end" font-family="'Liberation Sans', Arial, sans-serif" font-weight="bold" font-size="33">RIVA<tspan stroke="#000" stroke-width="1.6">_</tspan>Hypoxia</text>
<path d="M1952.2 1367.3V1385.3" stroke="#000" stroke-width="7" stroke-linecap="round"/>
<text transform="translate(1963.3 1414.9) rotate(-45) scale(1 1.03)" text-anchor="end" font-family="'Liberation Sans', Arial, sans-serif" font-weight="bold" font-size="33">U2932<tspan stroke="#000" stroke-width="1.6">_</tspan>Normoxia</text>
<path d="M2030.25 1367.3V1385.3" stroke="#000" stroke-width="7" stroke-linecap="round"/>
<text transform="translate(2041.35 1414.9) rotate(-45) scale(1 1.03)" text-anchor="end" font-family="'Liberation Sans', Arial, sans-serif" font-weight="bold" font-size="33">U2932<tspan stroke="#000" stroke-width="1.6">_</tspan>Hypoxia</text>
<rect x="1473.9" y="1005.6" width="10.8" height="26.6"/>
<rect x="1556.75" y="1005.6" width="10.6" height="26.6"/>
<rect x="1483.9" y="1013.55" width="78.05" height="10.7"/>
<text transform="translate(1500.38 999.85) scale(1 0.9699)" font-family="'Liberation Sans', Arial, sans-serif" font-weight="normal" font-size="36.5" fill="#000">ns</text>
<rect x="1630" y="1051.1" width="10.8" height="26.6"/>
<rect x="1712.85" y="1051.1" width="10.6" height="26.6"/>
<rect x="1640" y="1059.05" width="78.05" height="10.7"/>
<text transform="translate(1660.68 1049.45) scale(1 0.9699)" font-family="'Liberation Sans', Arial, sans-serif" font-weight="normal" font-size="36.5" fill="#000">ns</text>
<rect x="1786.1" y="1062.1" width="10.8" height="26.6"/>
<rect x="1868.95" y="1062.1" width="10.6" height="26.6"/>
<rect x="1796.1" y="1070.05" width="78.05" height="10.7"/>
<text transform="translate(1815.18 1058.25) scale(1 0.9699)" font-family="'Liberation Sans', Arial, sans-serif" font-weight="normal" font-size="36.5" fill="#000">ns</text>
<rect x="1942.2" y="1053.7" width="10.8" height="26.6"/>
<rect x="2025.05" y="1053.7" width="10.6" height="26.6"/>
<rect x="1952.2" y="1061.65" width="78.05" height="10.7"/>
<text transform="translate(1971.78 1051.95) scale(1 0.9699)" font-family="'Liberation Sans', Arial, sans-serif" font-weight="normal" font-size="36.5" fill="#000">ns</text>
<text transform="translate(1343 1153.4) rotate(-90)" text-anchor="middle" font-family="'Liberation Serif', 'Times New Roman', serif" font-weight="bold" font-size="36.85">Relative mRNA Level</text>
<text transform="translate(3.38 1679.8) scale(1 1.0781)" font-family="'Liberation Sans', Arial, sans-serif" font-weight="bold" font-size="48.13" fill="#231f20">E</text>
<g transform="translate(490.19 1703.58) scale(1 1.0176)"><text font-family="'Liberation Sans', Arial, sans-serif" font-weight="bold" font-size="41.64" fill="#000">GPNMB</text></g>
<rect x="266.4" y="2138.2" width="56" height="56" fill="#d3d3d3"/>
<rect x="344.45" y="2078.8" width="56" height="115.4" fill="#d3d3d3"/>
<rect x="422.5" y="2040.8" width="56" height="153.4" fill="#c5d9f1"/>
<rect x="500.55" y="1932.2" width="56" height="262" fill="#c5d9f1"/>
<rect x="578.6" y="2029.9" width="56" height="164.3" fill="#5b95d1"/>
<rect x="656.65" y="1910" width="56" height="284.2" fill="#5b95d1"/>
<rect x="734.7" y="2034.9" width="56" height="159.3" fill="#88a6cd"/>
<rect x="812.75" y="1920.8" width="56" height="273.4" fill="#88a6cd"/>
<path d="M294.2 2134.1V2146.1M281.4 2134.1H307M281.4 2146.1H307" stroke="#000000" stroke-width="3.4" stroke-linecap="round" fill="none"/>
<circle cx="276.8" cy="2146.1" r="8.7" fill="#5790d3"/>
<circle cx="294.2" cy="2134.1" r="8.7" fill="#5790d3"/>
<circle cx="311.8" cy="2140.4" r="8.7" fill="#5790d3"/>
<path d="M373.2 2067.1V2094.2M360.4 2067.1H386M360.4 2094.2H386" stroke="#000000" stroke-width="3.4" stroke-linecap="round" fill="none"/>
<circle cx="354.9" cy="2067.1" r="8.7" fill="#f09598"/>
<circle cx="354.9" cy="2094.2" r="8.7" fill="#f09598"/>
<circle cx="389.9" cy="2080.6" r="8.7" fill="#f09598"/>
<path d="M450.5 2023.7V2061.4M437.7 2023.7H463.3M437.7 2061.4H463.3" stroke="#5790d3" stroke-width="3.4" stroke-linecap="round" fill="none"/>
<circle cx="450.5" cy="2023.7" r="8.7" fill="#5790d3"/>
<circle cx="450.5" cy="2042.9" r="8.7" fill="#5790d3"/>
<circle cx="450.5" cy="2061.4" r="8.7" fill="#5790d3"/>
<path d="M528.7 1903.7V1963.7M515.9 1903.7H541.5M515.9 1963.7H541.5" stroke="#f09598" stroke-width="3.4" stroke-linecap="round" fill="none"/>
<circle cx="528.7" cy="1903.7" r="8.7" fill="#f09598"/>
<circle cx="528.7" cy="1934" r="8.7" fill="#f09598"/>
<circle cx="528.7" cy="1963.7" r="8.7" fill="#f09598"/>
<path d="M607 2009.7V2053.1M594.2 2009.7H619.8M594.2 2053.1H619.8" stroke="#000000" stroke-width="3.4" stroke-linecap="round" fill="none"/>
<circle cx="607" cy="2009.7" r="8.7" fill="#8db3e2"/>
<circle cx="607" cy="2031.9" r="8.7" fill="#8db3e2"/>
<circle cx="607" cy="2053.1" r="8.7" fill="#8db3e2"/>
<path d="M685 1879.2V1945.3M672.2 1879.2H697.8M672.2 1945.3H697.8" stroke="#000000" stroke-width="3.4" stroke-linecap="round" fill="none"/>
<circle cx="685" cy="1879.2" r="8.7" fill="#ee7679"/>
<circle cx="685" cy="1912.5" r="8.7" fill="#ee7679"/>
<circle cx="685" cy="1945.3" r="8.7" fill="#ee7679"/>
<path d="M763.2 2019V2055.1M750.4 2019H776M750.4 2055.1H776" stroke="#000000" stroke-width="3.4" stroke-linecap="round" fill="none"/>
<circle cx="763.2" cy="2019" r="8.7" fill="#5790d3"/>
<circle cx="763.2" cy="2036.9" r="8.7" fill="#5790d3"/>
<circle cx="763.2" cy="2055.1" r="8.7" fill="#5790d3"/>
<path d="M840.9 1891.6V1954.2M828.1 1891.6H853.7M828.1 1954.2H853.7" stroke="#000000" stroke-width="3.4" stroke-linecap="round" fill="none"/>
<circle cx="840.9" cy="1891.6" r="8.7" fill="#f09598"/>
<circle cx="840.9" cy="1923.1" r="8.7" fill="#f09598"/>
<circle cx="840.9" cy="1954.2" r="8.7" fill="#f09598"/>
<path d="M242.3 1757.7V2195.4M242.3 2194.2H894.2" stroke="#000" stroke-width="7" stroke-linecap="round" fill="none"/>
<path d="M242.3 2194.2H223.8" stroke="#000" stroke-width="7" stroke-linecap="round"/>
<g transform="translate(218.8 2206.01) scale(1 1.04)"><text text-anchor="end" font-family="'Liberation Sans', Arial, sans-serif" font-weight="bold" font-size="33">0</text></g>
<path d="M242.3 2085.57H223.8" stroke="#000" stroke-width="7" stroke-linecap="round"/>
<g transform="translate(218.8 2097.39) scale(1 1.04)"><text text-anchor="end" font-family="'Liberation Sans', Arial, sans-serif" font-weight="bold" font-size="33">2</text></g>
<path d="M242.3 1976.95H223.8" stroke="#000" stroke-width="7" stroke-linecap="round"/>
<g transform="translate(218.8 1988.76) scale(1 1.04)"><text text-anchor="end" font-family="'Liberation Sans', Arial, sans-serif" font-weight="bold" font-size="33">4</text></g>
<path d="M242.3 1868.33H223.8" stroke="#000" stroke-width="7" stroke-linecap="round"/>
<g transform="translate(218.8 1880.14) scale(1 1.04)"><text text-anchor="end" font-family="'Liberation Sans', Arial, sans-serif" font-weight="bold" font-size="33">6</text></g>
<path d="M242.3 1759.7H223.8" stroke="#000" stroke-width="7" stroke-linecap="round"/>
<g transform="translate(218.8 1771.51) scale(1 1.04)"><text text-anchor="end" font-family="'Liberation Sans', Arial, sans-serif" font-weight="bold" font-size="33">8</text></g>
<path d="M294.4 2194.2V2212.2" stroke="#000" stroke-width="7" stroke-linecap="round"/>
<text transform="translate(305.5 2241.8) rotate(-45) scale(1 1.03)" text-anchor="end" font-family="'Liberation Sans', Arial, sans-serif" font-weight="bold" font-size="33">SU6<tspan stroke="#000" stroke-width="1.6">_</tspan>Normoxia</text>
<path d="M372.45 2194.2V2212.2" stroke="#000" stroke-width="7" stroke-linecap="round"/>
<text transform="translate(383.55 2241.8) rotate(-45) scale(1 1.03)" text-anchor="end" font-family="'Liberation Sans', Arial, sans-serif" font-weight="bold" font-size="33">SU6<tspan stroke="#000" stroke-width="1.6">_</tspan>Hypoxia</text>
<path d="M450.5 2194.2V2212.2" stroke="#000" stroke-width="7" stroke-linecap="round"/>
<text transform="translate(461.6 2241.8) rotate(-45) scale(1 1.03)" text-anchor="end" font-family="'Liberation Sans', Arial, sans-serif" font-weight="bold" font-size="33">SU8<tspan stroke="#000" stroke-width="1.6">_</tspan>Normoxia</text>
<path d="M528.55 2194.2V2212.2" stroke="#000" stroke-width="7" stroke-linecap="round"/>
<text transform="translate(539.65 2241.8) rotate(-45) scale(1 1.03)" text-anchor="end" font-family="'Liberation Sans', Arial, sans-serif" font-weight="bold" font-size="33">SU8<tspan stroke="#000" stroke-width="1.6">_</tspan>Hypoxia</text>
<path d="M606.6 2194.2V2212.2" stroke="#000" stroke-width="7" stroke-linecap="round"/>
<text transform="translate(617.7 2241.8) rotate(-45) scale(1 1.03)" text-anchor="end" font-family="'Liberation Sans', Arial, sans-serif" font-weight="bold" font-size="33">RIVA<tspan stroke="#000" stroke-width="1.6">_</tspan>Normoxia</text>
<path d="M684.65 2194.2V2212.2" stroke="#000" stroke-width="7" stroke-linecap="round"/>
<text transform="translate(695.75 2241.8) rotate(-45) scale(1 1.03)" text-anchor="end" font-family="'Liberation Sans', Arial, sans-serif" font-weight="bold" font-size="33">RIVA<tspan stroke="#000" stroke-width="1.6">_</tspan>Hypoxia</text>
<path d="M762.7 2194.2V2212.2" stroke="#000" stroke-width="7" stroke-linecap="round"/>
<text transform="translate(773.8 2241.8) rotate(-45) scale(1 1.03)" text-anchor="end" font-family="'Liberation Sans', Arial, sans-serif" font-weight="bold" font-size="33">U2932<tspan stroke="#000" stroke-width="1.6">_</tspan>Normoxia</text>
<path d="M840.75 2194.2V2212.2" stroke="#000" stroke-width="7" stroke-linecap="round"/>
<text transform="translate(851.85 2241.8) rotate(-45) scale(1 1.03)" text-anchor="end" font-family="'Liberation Sans', Arial, sans-serif" font-weight="bold" font-size="33">U2932<tspan stroke="#000" stroke-width="1.6">_</tspan>Hypoxia</text>
<rect x="284.4" y="2024.8" width="10.8" height="26.6"/>
<rect x="367.25" y="2024.8" width="10.6" height="26.6"/>
<rect x="294.4" y="2032.75" width="78.05" height="10.7"/>
<text stroke="#000" stroke-width="0.5" transform="translate(321.59 2017.07) scale(1 0.9526)" font-family="'Liberation Sans', Arial, sans-serif" font-weight="normal" font-size="32" fill="#000" letter-spacing="3.73">**</text>
<rect x="440.5" y="1866.6" width="10.8" height="26.6"/>
<rect x="523.35" y="1866.6" width="10.6" height="26.6"/>
<rect x="450.5" y="1874.55" width="78.05" height="10.7"/>
<text stroke="#000" stroke-width="0.5" transform="translate(465.49 1863.17) scale(1 0.9615)" font-family="'Liberation Sans', Arial, sans-serif" font-weight="normal" font-size="32" fill="#000" letter-spacing="2.24">***</text>
<rect x="596.6" y="1836.6" width="10.8" height="26.6"/>
<rect x="679.45" y="1836.6" width="10.6" height="26.6"/>
<rect x="606.6" y="1844.55" width="78.05" height="10.7"/>
<text stroke="#000" stroke-width="0.5" transform="translate(621.69 1826.27) scale(1 0.9615)" font-family="'Liberation Sans', Arial, sans-serif" font-weight="normal" font-size="32" fill="#000" letter-spacing="1.99">***</text>
<rect x="752.7" y="1848" width="10.8" height="26.6"/>
<rect x="835.55" y="1848" width="10.6" height="26.6"/>
<rect x="762.7" y="1855.95" width="78.05" height="10.7"/>
<text stroke="#000" stroke-width="0.5" transform="translate(778.39 1842.17) scale(1 0.9615)" font-family="'Liberation Sans', Arial, sans-serif" font-weight="normal" font-size="32" fill="#000" letter-spacing="2.29">***</text>
<text transform="translate(180 1980.45) rotate(-90)" text-anchor="middle" font-family="'Liberation Serif', 'Times New Roman', serif" font-weight="bold" font-size="36.85">Relative mRNA Level</text>
<text transform="translate(1167.52 1680.8) scale(1 1.0916)" font-family="'Liberation Sans', Arial, sans-serif" font-weight="bold" font-size="47.53" fill="#231f20">F</text>
<g transform="translate(1681.29 1703.58) scale(1 1.0155)"><text font-family="'Liberation Sans', Arial, sans-serif" font-weight="bold" font-size="41.73" fill="#000">CDCA7</text></g>
<rect x="1451.1" y="2084" width="56" height="110.6" fill="#d3d3d3"/>
<rect x="1529.15" y="2035.4" width="56" height="159.2" fill="#d3d3d3"/>
<rect x="1607.2" y="1964.5" width="56" height="230.1" fill="#c5d9f1"/>
<rect x="1685.25" y="1845.5" width="56" height="349.1" fill="#c5d9f1"/>
<rect x="1763.3" y="1975.3" width="56" height="219.3" fill="#5b95d1"/>
<rect x="1841.35" y="1856.4" width="56" height="338.2" fill="#5b95d1"/>
<rect x="1919.4" y="1970.2" width="56" height="224.4" fill="#88a6cd"/>
<rect x="1997.45" y="1851.3" width="56" height="343.3" fill="#88a6cd"/>
<path d="M1478.9 2074.9V2097.1M1466.1 2074.9H1491.7M1466.1 2097.1H1491.7" stroke="#000000" stroke-width="3.4" stroke-linecap="round" fill="none"/>
<circle cx="1461.6" cy="2074.9" r="8.7" fill="#5790d3"/>
<circle cx="1461.6" cy="2096.6" r="8.7" fill="#5790d3"/>
<circle cx="1496.2" cy="2085.9" r="8.7" fill="#5790d3"/>
<path d="M1557.1 2017.7V2056.4M1544.3 2017.7H1569.9M1544.3 2056.4H1569.9" stroke="#000000" stroke-width="3.4" stroke-linecap="round" fill="none"/>
<circle cx="1557.1" cy="2017.7" r="8.7" fill="#f09598"/>
<circle cx="1557.1" cy="2037.4" r="8.7" fill="#f09598"/>
<circle cx="1557.1" cy="2056.4" r="8.7" fill="#f09598"/>
<path d="M1635.2 1938.5V1993.5M1622.4 1938.5H1648M1622.4 1993.5H1648" stroke="#5790d3" stroke-width="3.4" stroke-linecap="round" fill="none"/>
<circle cx="1635.2" cy="1938.5" r="8.7" fill="#5790d3"/>
<circle cx="1635.2" cy="1966.6" r="8.7" fill="#5790d3"/>
<circle cx="1635.2" cy="1993.5" r="8.7" fill="#5790d3"/>
<path d="M1712.9 1806.3V1888.7M1700.1 1806.3H1725.7M1700.1 1888.7H1725.7" stroke="#f09598" stroke-width="3.4" stroke-linecap="round" fill="none"/>
<circle cx="1712.9" cy="1806.3" r="8.7" fill="#f09598"/>
<circle cx="1712.9" cy="1847" r="8.7" fill="#f09598"/>
<circle cx="1712.9" cy="1888.7" r="8.7" fill="#f09598"/>
<path d="M1791 1953.3V2001.8M1778.2 1953.3H1803.8M1778.2 2001.8H1803.8" stroke="#000000" stroke-width="3.4" stroke-linecap="round" fill="none"/>
<circle cx="1791" cy="1953.3" r="8.7" fill="#8db3e2"/>
<circle cx="1791" cy="1977.8" r="8.7" fill="#8db3e2"/>
<circle cx="1791" cy="2001.8" r="8.7" fill="#8db3e2"/>
<path d="M1869.4 1820.2V1896.1M1856.6 1820.2H1882.2M1856.6 1896.1H1882.2" stroke="#000000" stroke-width="3.4" stroke-linecap="round" fill="none"/>
<circle cx="1869.4" cy="1820.2" r="8.7" fill="#ee7679"/>
<circle cx="1869.4" cy="1858.1" r="8.7" fill="#ee7679"/>
<circle cx="1869.4" cy="1896.1" r="8.7" fill="#ee7679"/>
<path d="M1947.4 1946.2V1998M1934.6 1946.2H1960.2M1934.6 1998H1960.2" stroke="#000000" stroke-width="3.4" stroke-linecap="round" fill="none"/>
<circle cx="1947.4" cy="1946.2" r="8.7" fill="#5790d3"/>
<circle cx="1947.4" cy="1972.2" r="8.7" fill="#5790d3"/>
<circle cx="1947.4" cy="1998" r="8.7" fill="#5790d3"/>
<path d="M2025.3 1812.6V1893M2012.5 1812.6H2038.1M2012.5 1893H2038.1" stroke="#000000" stroke-width="3.4" stroke-linecap="round" fill="none"/>
<circle cx="2025.3" cy="1812.6" r="8.7" fill="#f09598"/>
<circle cx="2025.3" cy="1853.1" r="8.7" fill="#f09598"/>
<circle cx="2025.3" cy="1893" r="8.7" fill="#f09598"/>
<path d="M1427 1757.7V2195.8M1427 2194.6H2078.7" stroke="#000" stroke-width="7" stroke-linecap="round" fill="none"/>
<path d="M1427 2194.6H1408.5" stroke="#000" stroke-width="7" stroke-linecap="round"/>
<g transform="translate(1403.5 2206.41) scale(1 1.04)"><text text-anchor="end" font-family="'Liberation Sans', Arial, sans-serif" font-weight="bold" font-size="33">0</text></g>
<path d="M1427 2085.88H1408.5" stroke="#000" stroke-width="7" stroke-linecap="round"/>
<g transform="translate(1403.5 2097.69) scale(1 1.04)"><text text-anchor="end" font-family="'Liberation Sans', Arial, sans-serif" font-weight="bold" font-size="33">1</text><rect x="-17.28" y="-4.87" width="6.62" height="6.07" fill="#fff"/><rect x="-6.13" y="-4.87" width="6.2" height="6.07" fill="#fff"/></g>
<path d="M1427 1977.15H1408.5" stroke="#000" stroke-width="7" stroke-linecap="round"/>
<g transform="translate(1403.5 1988.96) scale(1 1.04)"><text text-anchor="end" font-family="'Liberation Sans', Arial, sans-serif" font-weight="bold" font-size="33">2</text></g>
<path d="M1427 1868.42H1408.5" stroke="#000" stroke-width="7" stroke-linecap="round"/>
<g transform="translate(1403.5 1880.24) scale(1 1.04)"><text text-anchor="end" font-family="'Liberation Sans', Arial, sans-serif" font-weight="bold" font-size="33">3</text></g>
<path d="M1427 1759.7H1408.5" stroke="#000" stroke-width="7" stroke-linecap="round"/>
<g transform="translate(1403.5 1771.51) scale(1 1.04)"><text text-anchor="end" font-family="'Liberation Sans', Arial, sans-serif" font-weight="bold" font-size="33">4</text></g>
<path d="M1479.1 2194.6V2212.6" stroke="#000" stroke-width="7" stroke-linecap="round"/>
<text transform="translate(1490.2 2242.2) rotate(-45) scale(1 1.03)" text-anchor="end" font-family="'Liberation Sans', Arial, sans-serif" font-weight="bold" font-size="33">SU6<tspan stroke="#000" stroke-width="1.6">_</tspan>Normoxia</text>
<path d="M1557.15 2194.6V2212.6" stroke="#000" stroke-width="7" stroke-linecap="round"/>
<text transform="translate(1568.25 2242.2) rotate(-45) scale(1 1.03)" text-anchor="end" font-family="'Liberation Sans', Arial, sans-serif" font-weight="bold" font-size="33">SU6<tspan stroke="#000" stroke-width="1.6">_</tspan>Hypoxia</text>
<path d="M1635.2 2194.6V2212.6" stroke="#000" stroke-width="7" stroke-linecap="round"/>
<text transform="translate(1646.3 2242.2) rotate(-45) scale(1 1.03)" text-anchor="end" font-family="'Liberation Sans', Arial, sans-serif" font-weight="bold" font-size="33">SU8<tspan stroke="#000" stroke-width="1.6">_</tspan>Normoxia</text>
<path d="M1713.25 2194.6V2212.6" stroke="#000" stroke-width="7" stroke-linecap="round"/>
<text transform="translate(1724.35 2242.2) rotate(-45) scale(1 1.03)" text-anchor="end" font-family="'Liberation Sans', Arial, sans-serif" font-weight="bold" font-size="33">SU8<tspan stroke="#000" stroke-width="1.6">_</tspan>Hypoxia</text>
<path d="M1791.3 2194.6V2212.6" stroke="#000" stroke-width="7" stroke-linecap="round"/>
<text transform="translate(1802.4 2242.2) rotate(-45) scale(1 1.03)" text-anchor="end" font-family="'Liberation Sans', Arial, sans-serif" font-weight="bold" font-size="33">RIVA<tspan stroke="#000" stroke-width="1.6">_</tspan>Normoxia</text>
<path d="M1869.35 2194.6V2212.6" stroke="#000" stroke-width="7" stroke-linecap="round"/>
<text transform="translate(1880.45 2242.2) rotate(-45) scale(1 1.03)" text-anchor="end" font-family="'Liberation Sans', Arial, sans-serif" font-weight="bold" font-size="33">RIVA<tspan stroke="#000" stroke-width="1.6">_</tspan>Hypoxia</text>
<path d="M1947.4 2194.6V2212.6" stroke="#000" stroke-width="7" stroke-linecap="round"/>
<text transform="translate(1958.5 2242.2) rotate(-45) scale(1 1.03)" text-anchor="end" font-family="'Liberation Sans', Arial, sans-serif" font-weight="bold" font-size="33">U2932<tspan stroke="#000" stroke-width="1.6">_</tspan>Normoxia</text>
<path d="M2025.45 2194.6V2212.6" stroke="#000" stroke-width="7" stroke-linecap="round"/>
<text transform="translate(2036.55 2242.2) rotate(-45) scale(1 1.03)" text-anchor="end" font-family="'Liberation Sans', Arial, sans-serif" font-weight="bold" font-size="33">U2932<tspan stroke="#000" stroke-width="1.6">_</tspan>Hypoxia</text>
<rect x="1469.1" y="1968.6" width="10.8" height="26.6"/>
<rect x="1551.95" y="1968.6" width="10.6" height="26.6"/>
<rect x="1479.1" y="1976.55" width="78.05" height="10.7"/>
<text transform="translate(1494.78 1962.83) scale(1 1.0099)" font-family="'Liberation Sans', Arial, sans-serif" font-weight="normal" font-size="36.5" fill="#000">ns</text>
<rect x="1625.2" y="1762.1" width="10.8" height="26.6"/>
<rect x="1708.05" y="1762.1" width="10.6" height="26.6"/>
<rect x="1635.2" y="1770.05" width="78.05" height="10.7"/>
<text stroke="#000" stroke-width="0.5" transform="translate(1660.59 1767.37) scale(1 0.9615)" font-family="'Liberation Sans', Arial, sans-serif" font-weight="normal" font-size="32" fill="#000" letter-spacing="3.93">**</text>
<rect x="1781.3" y="1773.5" width="10.8" height="26.6"/>
<rect x="1864.15" y="1773.5" width="10.6" height="26.6"/>
<rect x="1791.3" y="1781.45" width="78.05" height="10.7"/>
<text stroke="#000" stroke-width="0.5" transform="translate(1812.29 1780.05) scale(1 1.0061)" font-family="'Liberation Sans', Arial, sans-serif" font-weight="normal" font-size="32" fill="#000" letter-spacing="4.23">**</text>
<rect x="1937.4" y="1765.9" width="10.8" height="26.6"/>
<rect x="2020.25" y="1765.9" width="10.6" height="26.6"/>
<rect x="1947.4" y="1773.85" width="78.05" height="10.7"/>
<text stroke="#000" stroke-width="0.5" transform="translate(1969.49 1771.27) scale(1 0.9615)" font-family="'Liberation Sans', Arial, sans-serif" font-weight="normal" font-size="32" fill="#000" letter-spacing="3.93">**</text>
<text transform="translate(1364.1 1980.5) rotate(-90)" text-anchor="middle" font-family="'Liberation Serif', 'Times New Roman', serif" font-weight="bold" font-size="36.85">Relative mRNA Level</text>
</svg></body></html>
